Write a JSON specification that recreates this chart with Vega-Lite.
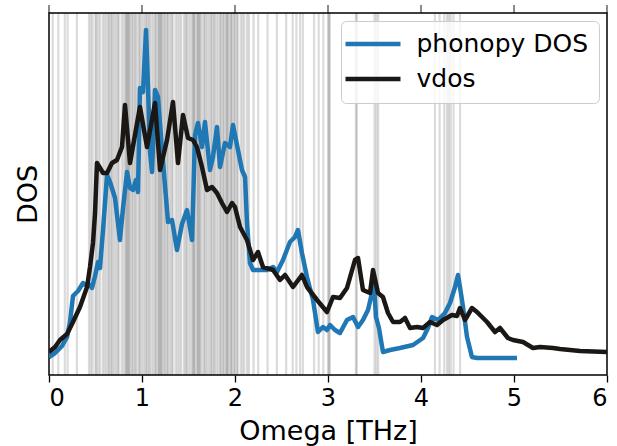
{
  "$schema": "https://vega.github.io/schema/vega-lite/v6.json",
  "width": 558,
  "height": 362,
  "autosize": "none",
  "padding": {"left": 49, "top": 13, "right": 10, "bottom": 71},
  "background": "white",
  "datasets": {
    "topticks": [{"t": 0}, {"t": 1}, {"t": 2}, {"t": 3}, {"t": 4}, {"t": 5}, {"t": 6}],
    "vlines": [
      {"f": 0.04}, {"f": 0.1}, {"f": 0.17}, {"f": 0.2}, {"f": 0.3},
      {"f": 0.43}, {"f": 0.45}, {"f": 0.47}, {"f": 0.5}, {"f": 0.51}, {"f": 0.53}, {"f": 0.55}, {"f": 0.58}, {"f": 0.6}, {"f": 0.62}, {"f": 0.64}, {"f": 0.65},
      {"f": 0.67}, {"f": 0.68}, {"f": 0.7}, {"f": 0.72}, {"f": 0.74}, {"f": 0.75}, {"f": 0.78}, {"f": 0.8}, {"f": 0.82}, {"f": 0.83},
      {"f": 0.84}, {"f": 0.85}, {"f": 0.86}, {"f": 0.87}, {"f": 0.89}, {"f": 0.9}, {"f": 0.92}, {"f": 0.93}, {"f": 0.95}, {"f": 0.97}, {"f": 0.98}, {"f": 1.0},
      {"f": 1.02}, {"f": 1.04}, {"f": 1.05}, {"f": 1.07}, {"f": 1.08}, {"f": 1.1}, {"f": 1.12}, {"f": 1.14}, {"f": 1.15}, {"f": 1.17}, {"f": 1.18},
      {"f": 1.19}, {"f": 1.2}, {"f": 1.21}, {"f": 1.22}, {"f": 1.24}, {"f": 1.25}, {"f": 1.27}, {"f": 1.28}, {"f": 1.3}, {"f": 1.32}, {"f": 1.33}, {"f": 1.36},
      {"f": 1.38}, {"f": 1.4}, {"f": 1.42}, {"f": 1.45}, {"f": 1.47}, {"f": 1.48}, {"f": 1.5}, {"f": 1.52}, {"f": 1.54}, {"f": 1.55}, {"f": 1.56}, {"f": 1.57},
      {"f": 1.59}, {"f": 1.6}, {"f": 1.61}, {"f": 1.62}, {"f": 1.63}, {"f": 1.65}, {"f": 1.67}, {"f": 1.68}, {"f": 1.7}, {"f": 1.72}, {"f": 1.74}, {"f": 1.75},
      {"f": 1.77}, {"f": 1.78}, {"f": 1.8}, {"f": 1.82}, {"f": 1.84}, {"f": 1.85}, {"f": 1.87}, {"f": 1.88}, {"f": 1.9}, {"f": 1.91}, {"f": 1.92}, {"f": 1.93},
      {"f": 1.95}, {"f": 1.96}, {"f": 1.97}, {"f": 1.99}, {"f": 2.0}, {"f": 2.02}, {"f": 2.03}, {"f": 2.06}, {"f": 2.08}, {"f": 2.1}, {"f": 2.13},
      {"f": 2.15}, {"f": 2.2}, {"f": 2.25}, {"f": 2.35}, {"f": 2.45}, {"f": 2.55}, {"f": 2.62}, {"f": 2.66},
      {"f": 2.7}, {"f": 2.73}, {"f": 2.85}, {"f": 2.9}, {"f": 2.95}, {"f": 3.0}, {"f": 3.01}, {"f": 3.02},
      {"f": 3.3}, {"f": 3.31}, {"f": 3.5}, {"f": 3.52}, {"f": 3.54}, {"f": 4.15}, {"f": 4.2}, {"f": 4.25},
      {"f": 4.28}, {"f": 4.3}, {"f": 4.32}, {"f": 4.35}, {"f": 4.42}
    ],
    "curves": [
      {"series": "phonopy DOS", "omega": 0.0, "dos": 18},
      {"series": "phonopy DOS", "omega": 0.065, "dos": 22},
      {"series": "phonopy DOS", "omega": 0.14, "dos": 29},
      {"series": "phonopy DOS", "omega": 0.194, "dos": 38},
      {"series": "phonopy DOS", "omega": 0.226, "dos": 53},
      {"series": "phonopy DOS", "omega": 0.258, "dos": 79},
      {"series": "phonopy DOS", "omega": 0.312, "dos": 84},
      {"series": "phonopy DOS", "omega": 0.366, "dos": 92},
      {"series": "phonopy DOS", "omega": 0.409, "dos": 89},
      {"series": "phonopy DOS", "omega": 0.441, "dos": 90},
      {"series": "phonopy DOS", "omega": 0.462, "dos": 87},
      {"series": "phonopy DOS", "omega": 0.495, "dos": 99},
      {"series": "phonopy DOS", "omega": 0.527, "dos": 113},
      {"series": "phonopy DOS", "omega": 0.548, "dos": 107},
      {"series": "phonopy DOS", "omega": 0.581, "dos": 145},
      {"series": "phonopy DOS", "omega": 0.624, "dos": 200},
      {"series": "phonopy DOS", "omega": 0.656, "dos": 193},
      {"series": "phonopy DOS", "omega": 0.71, "dos": 177},
      {"series": "phonopy DOS", "omega": 0.763, "dos": 135},
      {"series": "phonopy DOS", "omega": 0.796, "dos": 167},
      {"series": "phonopy DOS", "omega": 0.839, "dos": 203},
      {"series": "phonopy DOS", "omega": 0.871, "dos": 187},
      {"series": "phonopy DOS", "omega": 0.903, "dos": 185},
      {"series": "phonopy DOS", "omega": 0.935, "dos": 195},
      {"series": "phonopy DOS", "omega": 0.957, "dos": 183},
      {"series": "phonopy DOS", "omega": 0.978, "dos": 287},
      {"series": "phonopy DOS", "omega": 1.011, "dos": 283},
      {"series": "phonopy DOS", "omega": 1.043, "dos": 345},
      {"series": "phonopy DOS", "omega": 1.065, "dos": 287},
      {"series": "phonopy DOS", "omega": 1.086, "dos": 223},
      {"series": "phonopy DOS", "omega": 1.108, "dos": 203},
      {"series": "phonopy DOS", "omega": 1.14, "dos": 285},
      {"series": "phonopy DOS", "omega": 1.172, "dos": 278},
      {"series": "phonopy DOS", "omega": 1.215, "dos": 225},
      {"series": "phonopy DOS", "omega": 1.28, "dos": 153},
      {"series": "phonopy DOS", "omega": 1.323, "dos": 155},
      {"series": "phonopy DOS", "omega": 1.376, "dos": 125},
      {"series": "phonopy DOS", "omega": 1.43, "dos": 151},
      {"series": "phonopy DOS", "omega": 1.484, "dos": 165},
      {"series": "phonopy DOS", "omega": 1.538, "dos": 135},
      {"series": "phonopy DOS", "omega": 1.57, "dos": 240},
      {"series": "phonopy DOS", "omega": 1.602, "dos": 252},
      {"series": "phonopy DOS", "omega": 1.645, "dos": 228},
      {"series": "phonopy DOS", "omega": 1.677, "dos": 253},
      {"series": "phonopy DOS", "omega": 1.731, "dos": 205},
      {"series": "phonopy DOS", "omega": 1.763, "dos": 218},
      {"series": "phonopy DOS", "omega": 1.806, "dos": 248},
      {"series": "phonopy DOS", "omega": 1.839, "dos": 208},
      {"series": "phonopy DOS", "omega": 1.892, "dos": 232},
      {"series": "phonopy DOS", "omega": 1.946, "dos": 228},
      {"series": "phonopy DOS", "omega": 1.978, "dos": 250},
      {"series": "phonopy DOS", "omega": 2.032, "dos": 225},
      {"series": "phonopy DOS", "omega": 2.075, "dos": 205},
      {"series": "phonopy DOS", "omega": 2.108, "dos": 198},
      {"series": "phonopy DOS", "omega": 2.129, "dos": 152},
      {"series": "phonopy DOS", "omega": 2.161, "dos": 112},
      {"series": "phonopy DOS", "omega": 2.194, "dos": 105},
      {"series": "phonopy DOS", "omega": 2.269, "dos": 105},
      {"series": "phonopy DOS", "omega": 2.344, "dos": 105},
      {"series": "phonopy DOS", "omega": 2.409, "dos": 108},
      {"series": "phonopy DOS", "omega": 2.452, "dos": 103},
      {"series": "phonopy DOS", "omega": 2.516, "dos": 115},
      {"series": "phonopy DOS", "omega": 2.591, "dos": 133},
      {"series": "phonopy DOS", "omega": 2.645, "dos": 138},
      {"series": "phonopy DOS", "omega": 2.677, "dos": 145},
      {"series": "phonopy DOS", "omega": 2.72, "dos": 122},
      {"series": "phonopy DOS", "omega": 2.774, "dos": 98},
      {"series": "phonopy DOS", "omega": 2.839, "dos": 75},
      {"series": "phonopy DOS", "omega": 2.892, "dos": 43},
      {"series": "phonopy DOS", "omega": 2.946, "dos": 48},
      {"series": "phonopy DOS", "omega": 2.989, "dos": 45},
      {"series": "phonopy DOS", "omega": 3.022, "dos": 50},
      {"series": "phonopy DOS", "omega": 3.075, "dos": 45},
      {"series": "phonopy DOS", "omega": 3.129, "dos": 42},
      {"series": "phonopy DOS", "omega": 3.204, "dos": 55},
      {"series": "phonopy DOS", "omega": 3.269, "dos": 58},
      {"series": "phonopy DOS", "omega": 3.323, "dos": 48},
      {"series": "phonopy DOS", "omega": 3.376, "dos": 55},
      {"series": "phonopy DOS", "omega": 3.43, "dos": 65},
      {"series": "phonopy DOS", "omega": 3.473, "dos": 82},
      {"series": "phonopy DOS", "omega": 3.495, "dos": 90},
      {"series": "phonopy DOS", "omega": 3.516, "dos": 58},
      {"series": "phonopy DOS", "omega": 3.548, "dos": 47},
      {"series": "phonopy DOS", "omega": 3.591, "dos": 23},
      {"series": "phonopy DOS", "omega": 3.667, "dos": 25},
      {"series": "phonopy DOS", "omega": 3.774, "dos": 27},
      {"series": "phonopy DOS", "omega": 3.914, "dos": 30},
      {"series": "phonopy DOS", "omega": 4.022, "dos": 37},
      {"series": "phonopy DOS", "omega": 4.075, "dos": 47},
      {"series": "phonopy DOS", "omega": 4.118, "dos": 58},
      {"series": "phonopy DOS", "omega": 4.183, "dos": 55},
      {"series": "phonopy DOS", "omega": 4.258, "dos": 62},
      {"series": "phonopy DOS", "omega": 4.312, "dos": 72},
      {"series": "phonopy DOS", "omega": 4.366, "dos": 88},
      {"series": "phonopy DOS", "omega": 4.398, "dos": 100},
      {"series": "phonopy DOS", "omega": 4.419, "dos": 88},
      {"series": "phonopy DOS", "omega": 4.452, "dos": 68},
      {"series": "phonopy DOS", "omega": 4.495, "dos": 38},
      {"series": "phonopy DOS", "omega": 4.548, "dos": 18},
      {"series": "phonopy DOS", "omega": 4.602, "dos": 17},
      {"series": "phonopy DOS", "omega": 5.032, "dos": 17},
      {"series": "vdos", "omega": 0.0, "dos": 23},
      {"series": "vdos", "omega": 0.065, "dos": 28},
      {"series": "vdos", "omega": 0.118, "dos": 35},
      {"series": "vdos", "omega": 0.194, "dos": 41},
      {"series": "vdos", "omega": 0.258, "dos": 53},
      {"series": "vdos", "omega": 0.333, "dos": 68},
      {"series": "vdos", "omega": 0.409, "dos": 88},
      {"series": "vdos", "omega": 0.441, "dos": 108},
      {"series": "vdos", "omega": 0.473, "dos": 132},
      {"series": "vdos", "omega": 0.495, "dos": 162},
      {"series": "vdos", "omega": 0.516, "dos": 212},
      {"series": "vdos", "omega": 0.581, "dos": 202},
      {"series": "vdos", "omega": 0.624, "dos": 202},
      {"series": "vdos", "omega": 0.677, "dos": 212},
      {"series": "vdos", "omega": 0.731, "dos": 215},
      {"series": "vdos", "omega": 0.785, "dos": 228},
      {"series": "vdos", "omega": 0.817, "dos": 270},
      {"series": "vdos", "omega": 0.871, "dos": 212},
      {"series": "vdos", "omega": 0.978, "dos": 268},
      {"series": "vdos", "omega": 1.054, "dos": 228},
      {"series": "vdos", "omega": 1.14, "dos": 272},
      {"series": "vdos", "omega": 1.194, "dos": 205},
      {"series": "vdos", "omega": 1.269, "dos": 235},
      {"series": "vdos", "omega": 1.333, "dos": 273},
      {"series": "vdos", "omega": 1.387, "dos": 212},
      {"series": "vdos", "omega": 1.441, "dos": 260},
      {"series": "vdos", "omega": 1.495, "dos": 237},
      {"series": "vdos", "omega": 1.548, "dos": 235},
      {"series": "vdos", "omega": 1.591, "dos": 228},
      {"series": "vdos", "omega": 1.645, "dos": 208},
      {"series": "vdos", "omega": 1.699, "dos": 185},
      {"series": "vdos", "omega": 1.753, "dos": 188},
      {"series": "vdos", "omega": 1.806, "dos": 182},
      {"series": "vdos", "omega": 1.86, "dos": 172},
      {"series": "vdos", "omega": 1.914, "dos": 163},
      {"series": "vdos", "omega": 1.968, "dos": 172},
      {"series": "vdos", "omega": 2.0, "dos": 168},
      {"series": "vdos", "omega": 2.054, "dos": 148},
      {"series": "vdos", "omega": 2.129, "dos": 135},
      {"series": "vdos", "omega": 2.194, "dos": 115},
      {"series": "vdos", "omega": 2.247, "dos": 123},
      {"series": "vdos", "omega": 2.301, "dos": 108},
      {"series": "vdos", "omega": 2.409, "dos": 105},
      {"series": "vdos", "omega": 2.484, "dos": 95},
      {"series": "vdos", "omega": 2.538, "dos": 100},
      {"series": "vdos", "omega": 2.624, "dos": 88},
      {"series": "vdos", "omega": 2.72, "dos": 100},
      {"series": "vdos", "omega": 2.774, "dos": 88},
      {"series": "vdos", "omega": 2.882, "dos": 75},
      {"series": "vdos", "omega": 2.989, "dos": 63},
      {"series": "vdos", "omega": 3.054, "dos": 78},
      {"series": "vdos", "omega": 3.129, "dos": 77},
      {"series": "vdos", "omega": 3.204, "dos": 87},
      {"series": "vdos", "omega": 3.29, "dos": 115},
      {"series": "vdos", "omega": 3.323, "dos": 117},
      {"series": "vdos", "omega": 3.376, "dos": 85},
      {"series": "vdos", "omega": 3.452, "dos": 82},
      {"series": "vdos", "omega": 3.484, "dos": 105},
      {"series": "vdos", "omega": 3.538, "dos": 82},
      {"series": "vdos", "omega": 3.591, "dos": 78},
      {"series": "vdos", "omega": 3.645, "dos": 62},
      {"series": "vdos", "omega": 3.699, "dos": 53},
      {"series": "vdos", "omega": 3.774, "dos": 53},
      {"series": "vdos", "omega": 3.828, "dos": 57},
      {"series": "vdos", "omega": 3.882, "dos": 47},
      {"series": "vdos", "omega": 3.957, "dos": 48},
      {"series": "vdos", "omega": 4.022, "dos": 47},
      {"series": "vdos", "omega": 4.097, "dos": 53},
      {"series": "vdos", "omega": 4.172, "dos": 50},
      {"series": "vdos", "omega": 4.237, "dos": 55},
      {"series": "vdos", "omega": 4.333, "dos": 60},
      {"series": "vdos", "omega": 4.387, "dos": 59},
      {"series": "vdos", "omega": 4.419, "dos": 67},
      {"series": "vdos", "omega": 4.473, "dos": 55},
      {"series": "vdos", "omega": 4.548, "dos": 67},
      {"series": "vdos", "omega": 4.602, "dos": 63},
      {"series": "vdos", "omega": 4.71, "dos": 53},
      {"series": "vdos", "omega": 4.796, "dos": 43},
      {"series": "vdos", "omega": 4.849, "dos": 47},
      {"series": "vdos", "omega": 4.935, "dos": 37},
      {"series": "vdos", "omega": 4.989, "dos": 35},
      {"series": "vdos", "omega": 5.097, "dos": 33},
      {"series": "vdos", "omega": 5.204, "dos": 27},
      {"series": "vdos", "omega": 5.28, "dos": 28},
      {"series": "vdos", "omega": 5.419, "dos": 27},
      {"series": "vdos", "omega": 5.495, "dos": 26},
      {"series": "vdos", "omega": 5.71, "dos": 24},
      {"series": "vdos", "omega": 6.0, "dos": 23}
    ]
  },
  "layer": [
    {
      "data": {"name": "vlines"},
      "mark": {"type": "rule", "color": "black", "opacity": 0.14, "strokeWidth": 2.2},
      "encoding": {
        "x": {"field": "f", "type": "quantitative", "scale": {"domain": [0, 6], "nice": false, "zero": false}}
      }
    },
    {
      "data": {"name": "topticks"},
      "mark": {"type": "tick", "orient": "vertical", "color": "black", "thickness": 1.3, "size": 8, "clip": false, "yOffset": -4},
      "encoding": {
        "x": {"field": "t", "type": "quantitative"},
        "y": {"datum": 362}
      }
    },
    {
      "data": {"name": "curves"},
      "mark": {"type": "line", "strokeWidth": 4.5, "clip": true, "strokeJoin": "round", "strokeCap": "butt"},
      "encoding": {
        "x": {
          "field": "omega", "type": "quantitative",
          "scale": {"domain": [0, 6], "nice": false, "zero": false},
          "axis": {"orient": "bottom", "values": [0, 1, 2, 3, 4, 5, 6], "format": "d", "title": "Omega [THz]", "domain": false, "grid": false}
        },
        "y": {
          "field": "dos", "type": "quantitative",
          "scale": {"domain": [0, 362], "nice": false, "zero": false},
          "axis": {"title": "DOS", "labels": false, "ticks": false, "domain": false, "grid": false, "titlePadding": 7}
        },
        "color": {
          "field": "series", "type": "nominal",
          "scale": {"domain": ["phonopy DOS", "vdos"], "range": ["#1f77b4", "#1a1714"]},
          "legend": {
            "title": null,
            "orient": "top-right",
            "offset": 8,
            "symbolType": "M-3,0H3",
            "symbolSize": 336,
            "symbolStrokeWidth": 4.5,
            "symbolOffset": 9,
            "labelOffset": 31,
            "labelFontSize": 25,
            "labelLimit": 0,
            "labelFont": "DejaVu Sans",
            "labelColor": "black",
            "rowPadding": 9,
            "padding": 10.5,
            "strokeColor": "#cccccc",
            "fillColor": "rgba(255,255,255,0.8)",
            "cornerRadius": 5
          }
        }
      }
    }
  ],
  "config": {
    "view": {"stroke": "black", "strokeWidth": 1.5},
    "axis": {
      "labelFont": "DejaVu Sans",
      "labelFontSize": 24,
      "labelColor": "black",
      "titleFont": "DejaVu Sans",
      "titleFontSize": 27,
      "titleFontWeight": "normal",
      "titleColor": "black",
      "tickColor": "black",
      "tickWidth": 1.3,
      "tickSize": 7,
      "labelPadding": 4,
      "titlePadding": 8
    }
  }
}
